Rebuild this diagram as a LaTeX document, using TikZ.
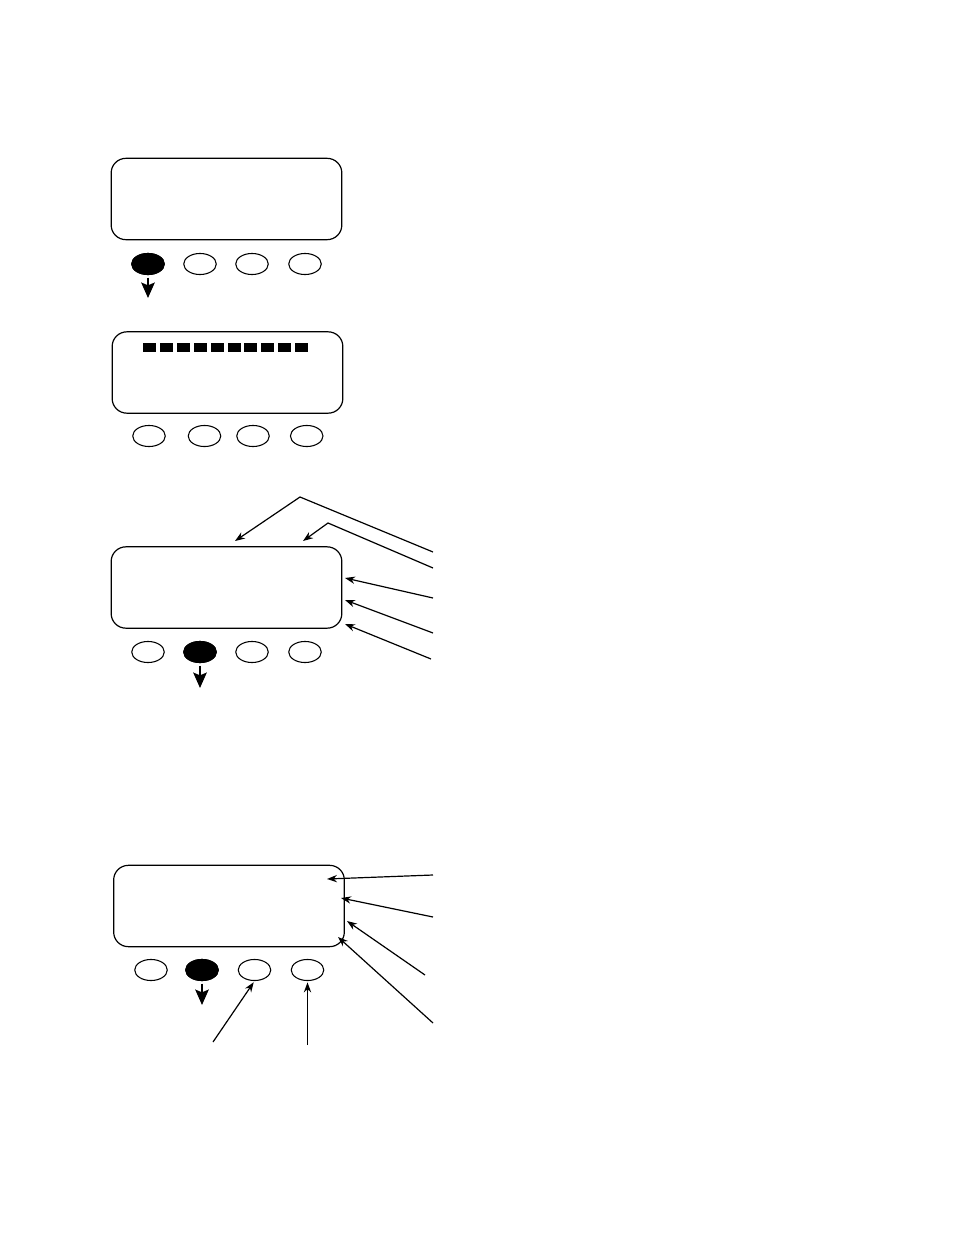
\documentclass[tikz,border=0pt]{standalone}
\usepackage{tikz}
\usetikzlibrary{shapes,arrows.meta,positioning,calc}

\begin{document}
\begin{tikzpicture}[x=0.75pt,y=-0.75pt,
    screen/.style={draw, rectangle, rounded corners=11pt, line width=0.9pt, minimum width=173pt, minimum height=61pt},
    btn/.style={draw, ellipse, line width=0.8pt, minimum width=24.4pt, minimum height=15.8pt, inner sep=0pt},
    pressed/.style={btn, fill=black},
    push/.style={-{Stealth[length=11.5pt,width=10pt,inset=2pt]}, line width=1.8pt, shorten <=2pt},
    lead/.style={-{Stealth[length=7.5pt,width=5.5pt]}, line width=0.9pt}]
    \useasboundingbox (0,0) rectangle (954,1235);

    % first screen, left key pressed
    \node (s1) [screen] at (226.5,199) {};
    \foreach \x/\n in {148/1,200/2,252/3,305/4}
        \node (s1k\n) [btn] at (\x,264) {};
    \node [pressed] at (s1k1) {};
    \coordinate (s1p) at (148,298);
    \draw [push] (s1k1.south) -- (s1p);

    % second screen, progress bar
    \node (s2) [screen] at (227.5,372.5) {};
    \foreach \i in {0,...,9}
        \fill (143+\i*16.9,343) rectangle ++(13,9);
    \foreach \x/\n in {149/1,204.5/2,253/3,306.7/4}
        \node (s2k\n) [btn] at (\x,436) {};

    % third screen
    \node (s3) [screen] at (226.5,587.5) {};
    \foreach \x/\n in {148/1,200/2,252/3,305/4}
        \node (s3k\n) [btn] at (\x,652) {};
    \node [pressed] at (s3k2) {};
    \coordinate (s3p) at (200,688);
    \draw [push] (s3k2.south) -- (s3p);

    \coordinate (s3a) at (433,552);
    \coordinate (s3b) at (433,568);
    \coordinate (s3c) at (433,598);
    \coordinate (s3d) at (433,633);
    \coordinate (s3e) at (431,659);
    \draw [lead] (s3a) -- (300,497) -- (235,541);
    \draw [lead] (s3b) -- (328,523) -- (303,541);
    \draw [lead] (s3c) -- (345,578);
    \draw [lead] (s3d) -- (345,600);
    \draw [lead] (s3e) -- (345,624);

    % fourth screen
    \node (s4) [screen] at (229,906) {};
    \foreach \x/\n in {151/1,202/2,254.5/3,307.5/4}
        \node (s4k\n) [btn] at (\x,970) {};
    \node [pressed] at (s4k2) {};
    \coordinate (s4p) at (202,1005);
    \draw [push] (s4k2.south) -- (s4p);

    \coordinate (s4a) at (433,875);
    \coordinate (s4b) at (433,917);
    \coordinate (s4c) at (425,975);
    \coordinate (s4d) at (433,1023);
    \coordinate (s4e) at (213,1042);
    \coordinate (s4f) at (307.5,1045);
    \draw [lead] (s4a) -- (327,879);
    \draw [lead] (s4b) -- (341,898);
    \draw [lead] (s4c) -- (347,921);
    \draw [lead] (s4d) -- (338,937);
    \draw [lead, shorten >=1pt] (s4e) -- (s4k3.south);
    \draw [lead, shorten >=1pt] (s4f) -- (s4k4.south);
\end{tikzpicture}
\end{document}
